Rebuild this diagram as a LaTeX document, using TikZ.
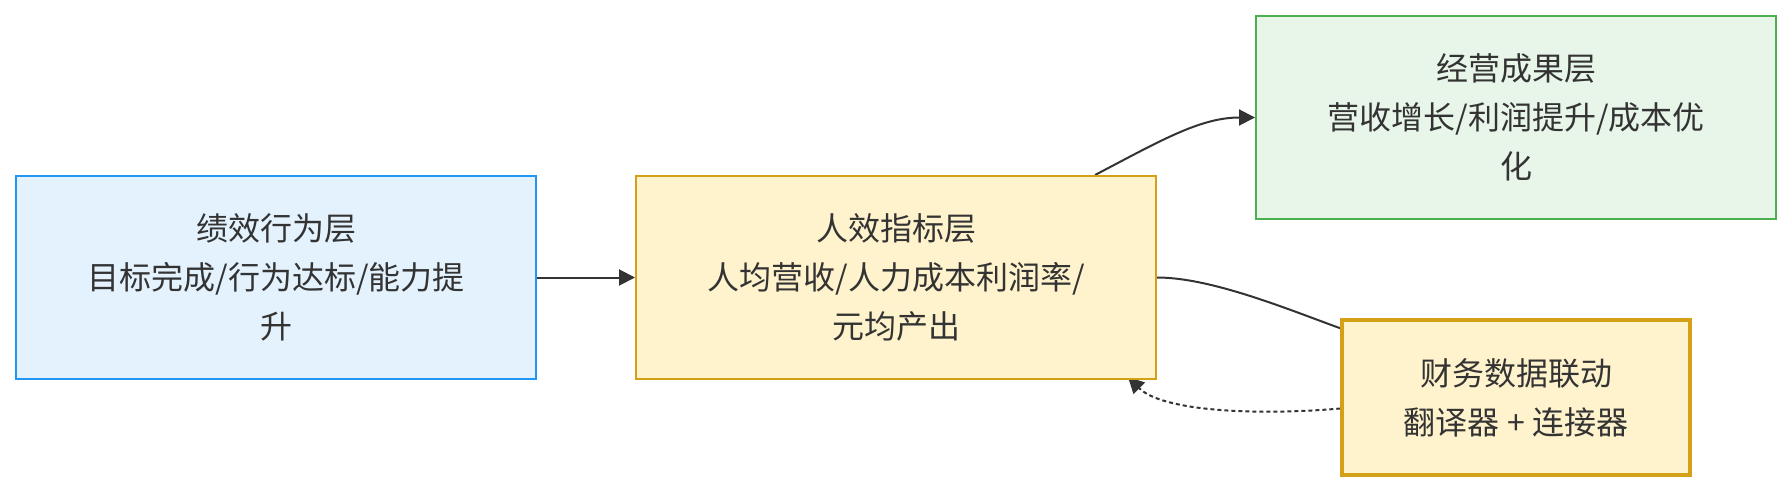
\documentclass[tikz,border=0pt]{standalone}
\usepackage{fontspec}
\setmainfont{Noto Sans CJK SC}
\usetikzlibrary{arrows.meta,backgrounds}
\definecolor{ink}{HTML}{333333}
\definecolor{bluefill}{HTML}{E3F2FD}
\definecolor{blueline}{HTML}{2196F3}
\definecolor{goldfill}{HTML}{FFF3CD}
\definecolor{goldline}{HTML}{D4A017}
\definecolor{greenfill}{HTML}{E8F5E9}
\definecolor{greenline}{HTML}{4CAF50}
\tikzset{
  >={Triangle[length=8pt,width=8pt]},
  layer/.style={draw,line width=1pt,inner sep=0pt,align=center,text=ink,
    minimum width=260pt,minimum height=101.5pt,
    font=\fontsize{16}{24.5}\selectfont},
  link/.style={draw=ink,line width=1pt},
}

\begin{document}
\begin{tikzpicture}[x=0.5pt,y=-0.5pt]
    \useasboundingbox (0,0) rectangle (1792,492);
    \node[layer,fill=bluefill,draw=blueline] (behav) at (276,277.5)
      {绩效行为层\\目标完成/行为达标/能力提\\升};
    \node[layer,fill=goldfill,draw=goldline] (metric) at (896,277.5)
      {人效指标层\\人均营收/人力成本利润率/\\元均产出};
    \node[layer,fill=greenfill,draw=greenline] (result) at (1516,117.5)
      {经营成果层\\营收增长/利润提升/成本优\\化};
    \node[layer,fill=goldfill,draw=goldline,line width=1.75pt,
      minimum width=174pt,minimum height=77.5pt] (finance) at (1516,397.5)
      {财务数据联动\\翻译器 + 连接器};
    \begin{scope}[on background layer]
      \draw[link,->] (behav) -- (metric);
      \draw[link,->] ([xshift=-31pt]metric.north east)
        .. controls +(65,-34) and +(-55,0) .. (result.west);
      \draw[link] (metric.east)
        .. controls +(55,0) and +(-50,-18) .. ([yshift=-5pt]finance.north west);
      \draw[link,->,dash pattern=on 2pt off 1.5pt] ([yshift=-5.5pt]finance.west)
        .. controls +(-80,7) and +(35,35) .. ([xshift=-14.5pt,yshift=1.5pt]metric.south east);
    \end{scope}
\end{tikzpicture}
\end{document}
